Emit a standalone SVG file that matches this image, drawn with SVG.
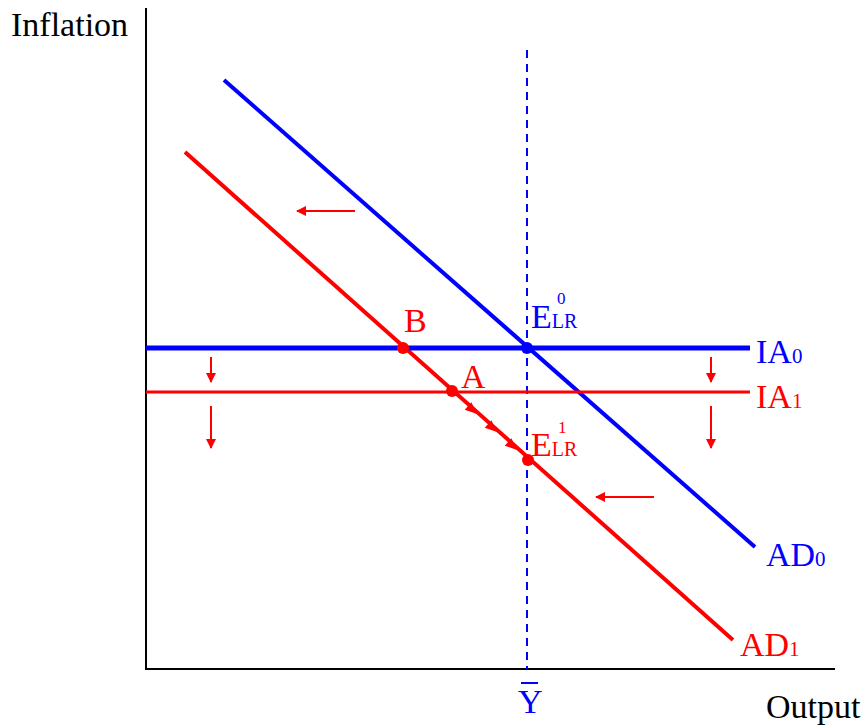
<svg xmlns="http://www.w3.org/2000/svg" width="866" height="726" viewBox="0 0 866 726">
<style>
text{font-family:"Liberation Serif","Times New Roman",serif}
.lbl{font-size:34px}
.blue{fill:#0000ff}
.red{fill:#ff0000}
.sub{font-size:20px}
</style>
<defs>
<marker id="ah" viewBox="0 0 10 10" refX="9" refY="5" markerWidth="5" markerHeight="5" orient="auto" markerUnits="strokeWidth"><path d="M0,0 L10,5 L0,10 z" fill="#ff0000"/></marker>
</defs>
<rect width="866" height="726" fill="#fff"/>
<g id="axes" stroke="#000" stroke-width="2">
<line x1="146" y1="8" x2="146" y2="670"/>
<line x1="145" y1="669" x2="835" y2="669"/>
</g>
<g id="connectors">
<line x1="527" y1="50" x2="527" y2="669" stroke="#0000ff" stroke-width="2" stroke-dasharray="8,6"/>
<line id="AD0" x1="224" y1="80" x2="755" y2="547" stroke="#0000ff" stroke-width="4"/>
<line id="AD1" x1="185" y1="152" x2="733" y2="640" stroke="#ff0000" stroke-width="4"/>
<line id="IA0" x1="146" y1="348" x2="750" y2="348" stroke="#0000ff" stroke-width="5"/>
<line id="IA1" x1="146" y1="392" x2="750" y2="392" stroke="#ff0000" stroke-width="3"/>
<g stroke="#ff0000" stroke-width="2" fill="none">
<line x1="355" y1="211" x2="297" y2="211" marker-end="url(#ah)"/>
<line x1="654" y1="497" x2="596" y2="497" marker-end="url(#ah)"/>
<line x1="211" y1="357" x2="211" y2="382" marker-end="url(#ah)"/>
<line x1="211" y1="406" x2="211" y2="448" marker-end="url(#ah)"/>
<line x1="711" y1="357" x2="711" y2="382" marker-end="url(#ah)"/>
<line x1="711" y1="406" x2="711" y2="448" marker-end="url(#ah)"/>
</g>
<g fill="#ff0000">
<polygon points="0,0 -12,-5 -12,5" transform="translate(477,414) rotate(41.8)"/>
<polygon points="0,0 -12,-5 -12,5" transform="translate(497,432) rotate(41.8)"/>
<polygon points="0,0 -12,-5 -12,5" transform="translate(517,450) rotate(41.8)"/>
</g>
</g>
<g id="point-E0"><circle cx="527" cy="348" r="6" fill="#0000ff"/>
<text x="531" y="328" class="lbl blue">E<tspan class="sub">LR</tspan></text>
<text x="557" y="304" class="blue" font-size="17">0</text></g>
<g id="point-B"><circle cx="403" cy="348" r="6" fill="#ff0000"/><text x="404" y="332" class="lbl red">B</text></g>
<g id="point-A"><circle cx="452" cy="391" r="6" fill="#ff0000"/><text x="461" y="388" class="lbl red">A</text></g>
<g id="point-E1"><circle cx="528" cy="460" r="6" fill="#ff0000"/>
<text x="531" y="456" class="lbl red">E<tspan class="sub">LR</tspan></text>
<text x="558" y="433" class="red" font-size="17">1</text></g>
<g id="labels">
<text x="11" y="36" class="lbl">Inflation</text>
<text x="766" y="718" class="lbl">Output</text>
<text x="756" y="363" class="lbl blue">IA<tspan font-size="21">0</tspan></text>
<text x="756" y="408" class="lbl red">IA<tspan font-size="21">1</tspan></text>
<text x="766" y="566" class="lbl blue">AD<tspan font-size="21">0</tspan></text>
<text x="740" y="656" class="lbl red">AD<tspan font-size="21">1</tspan></text>
<line x1="521" y1="683" x2="538" y2="683" stroke="#0000ff" stroke-width="2"/>
<text x="518" y="713" class="lbl blue">Y</text>
</g>
</svg>
